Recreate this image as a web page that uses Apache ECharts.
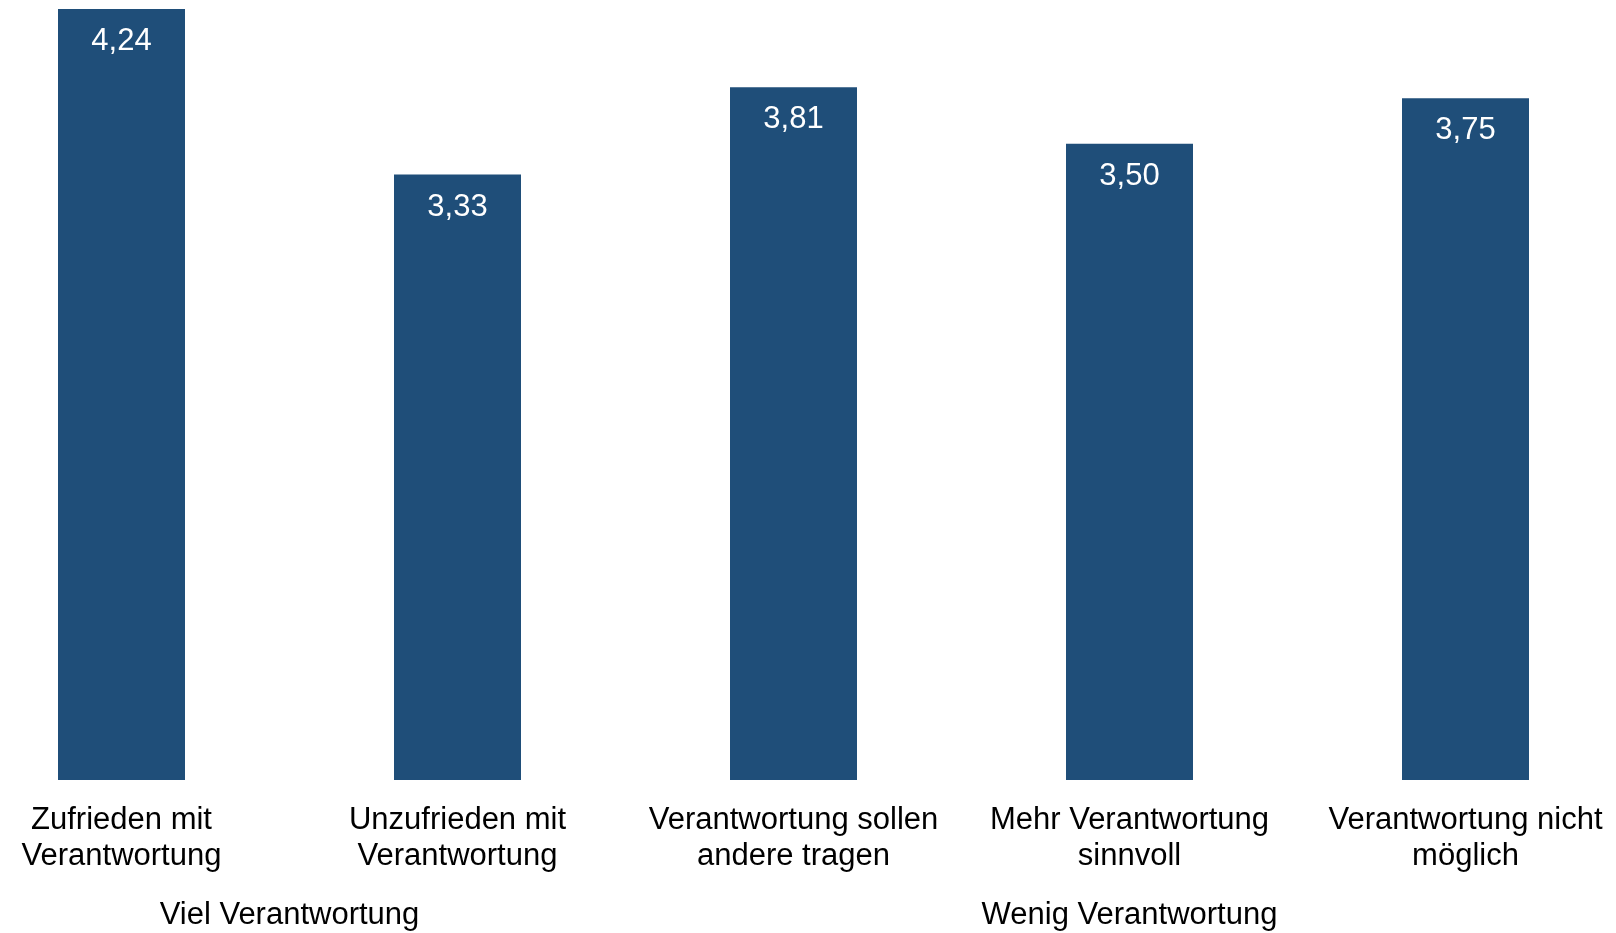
<!DOCTYPE html>
<html>
<head>
<meta charset="utf-8">
<script src="https://cdn.jsdelivr.net/npm/echarts@6/dist/echarts.min.js"></script>
<style>
html,body{margin:0;padding:0;background:#fff;}
#chart{width:1616px;height:933px;}
</style>
</head>
<body>
<div id="chart"></div>
<script>
const categories = [
  "Zufrieden mit\nVerantwortung",
  "Unzufrieden mit\nVerantwortung",
  "Verantwortung sollen\nandere tragen",
  "Mehr Verantwortung\nsinnvoll",
  "Verantwortung nicht\nmöglich"
];
const values = [4.24, 3.33, 3.81, 3.50, 3.75];
const groupNames = ["Viel Verantwortung", "Wenig Verantwortung"];
const groupMembers = [[0, 1], [2, 3, 4]];

const groupCenters = groupMembers.map(m => m.reduce((a, b) => a + b, 0) / m.length);

const chart = echarts.init(document.getElementById('chart'), null, {renderer: 'canvas'});
const FONT = '"Liberation Sans", Arial, Helvetica, sans-serif';

chart.setOption({
  animation: false,
  backgroundColor: '#ffffff',
  grid: {left: 121.5, right: 150.5, top: 0, bottom: 147.5, containLabel: false},
  xAxis: [
    {
      type: 'category',
      data: categories,
      boundaryGap: false,
      axisLine: {show: false},
      axisTick: {show: false},
      splitLine: {show: false},
      axisLabel: {
        interval: 0,
        margin: 22,
        color: '#000000',
        fontFamily: FONT,
        fontSize: 31,
        lineHeight: 36.5,
        align: 'center'
      }
    },
    {
      type: 'value',
      position: 'bottom',
      min: 0,
      max: categories.length - 1,
      axisLine: {show: false},
      axisTick: {show: false},
      splitLine: {show: false},
      axisLabel: {
        customValues: groupCenters,
        margin: 117,
        color: '#000000',
        fontFamily: FONT,
        fontSize: 31,
        lineHeight: 36,
        showMinLabel: true,
        showMaxLabel: true,
        formatter: function (v) {
          const i = groupCenters.findIndex(c => Math.abs(c - v) < 1e-6);
          return i >= 0 ? groupNames[i] : '';
        }
      }
    }
  ],
  yAxis: {
    type: 'value',
    min: 0,
    max: 4.29,
    show: false,
    splitLine: {show: false}
  },
  series: [{
    type: 'bar',
    xAxisIndex: 0,
    data: values,
    barWidth: 127,
    itemStyle: {color: '#1F4E79'},
    label: {
      show: true,
      position: 'insideTop',
      distance: 17,
      color: '#ffffff',
      fontFamily: FONT,
      fontSize: 31,
      lineHeight: 31,
      formatter: function (p) { return p.value.toFixed(2).replace('.', ','); }
    }
  }]
});
</script>
</body>
</html>
